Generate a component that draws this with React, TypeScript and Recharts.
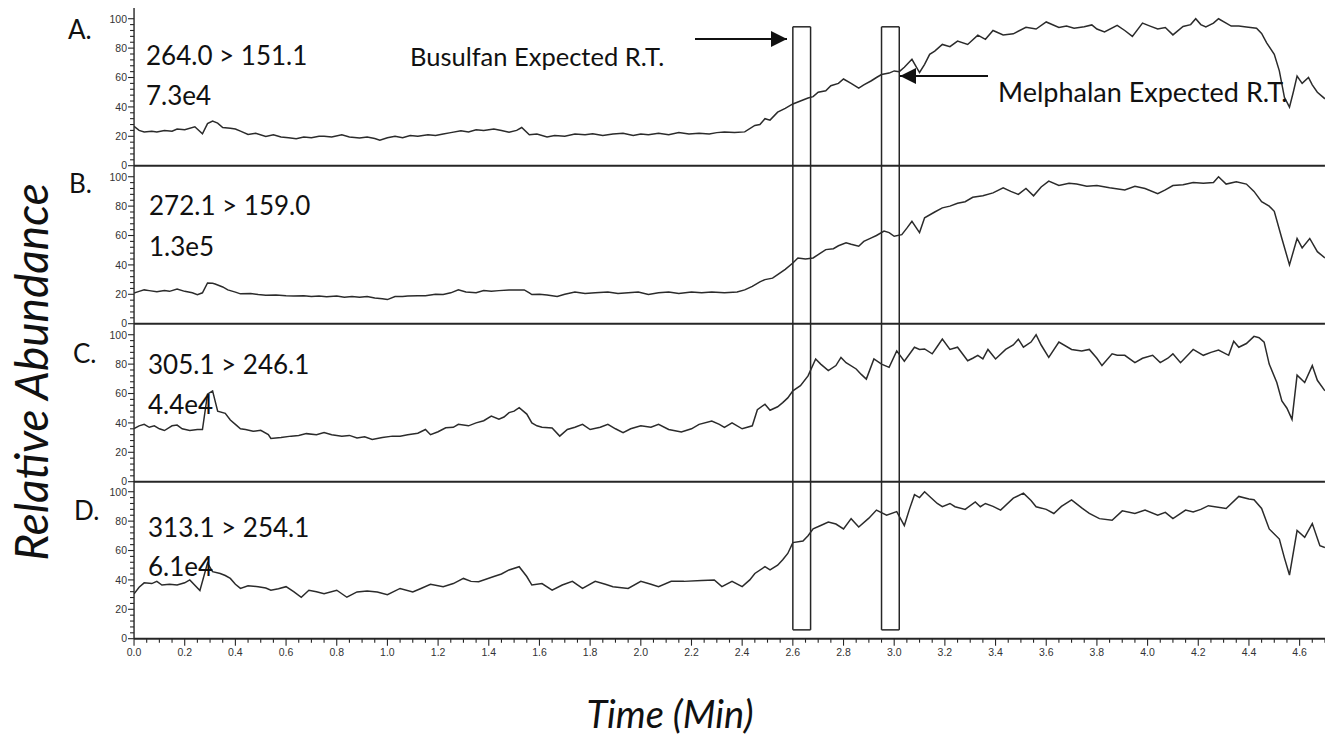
import React from 'react';
import { LineChart, Line, XAxis, YAxis, ReferenceLine } from 'recharts';

// [time (min), relative abundance (%)]
const traceA: [number, number][] = [
  [0, 26.8], [0.02, 24], [0.04, 23], [0.07, 23.5], [0.09, 23], [0.12, 24], [0.15, 23.5], [0.17, 25],
  [0.2, 24.5], [0.24, 26.5], [0.27, 21.7], [0.29, 28.6], [0.31, 30.3], [0.33, 29], [0.35, 26], [0.38, 25.5],
  [0.4, 25], [0.42, 23.5], [0.45, 21.2], [0.48, 22], [0.52, 19.9], [0.55, 21], [0.58, 19.5], [0.61, 19],
  [0.64, 18.4], [0.67, 19.5], [0.7, 19], [0.73, 20], [0.75, 20], [0.78, 19.5], [0.82, 21], [0.85, 19.5],
  [0.89, 18.8], [0.92, 19.5], [0.95, 18.5], [0.97, 17.3], [1.0, 19], [1.03, 20], [1.06, 19], [1.09, 20.5],
  [1.12, 20], [1.16, 21], [1.19, 20.5], [1.22, 21.5], [1.25, 22.5], [1.29, 23.8], [1.32, 23], [1.35, 24.5],
  [1.38, 24], [1.42, 25], [1.45, 24], [1.48, 22.7], [1.51, 24], [1.53, 26], [1.56, 21], [1.59, 21.5],
  [1.63, 19.6], [1.66, 20.5], [1.7, 20], [1.74, 21.5], [1.78, 21], [1.81, 21.8], [1.85, 20.5], [1.89, 21.5],
  [1.93, 22], [1.97, 20.5], [2.0, 21.5], [2.03, 21], [2.07, 22], [2.11, 21], [2.15, 22.5], [2.19, 21.5],
  [2.23, 22], [2.27, 21.5], [2.3, 22.5], [2.33, 23], [2.37, 22.5], [2.41, 23], [2.45, 27.4], [2.47, 28],
  [2.49, 32], [2.51, 31], [2.54, 36.4], [2.57, 39], [2.6, 42], [2.63, 44], [2.66, 46], [2.68, 47],
  [2.7, 50], [2.73, 51], [2.75, 54.4], [2.78, 56], [2.8, 59], [2.83, 56], [2.86, 52.8], [2.88, 55],
  [2.91, 57.8], [2.93, 60], [2.95, 62], [2.98, 63], [3.0, 64.5], [3.02, 64], [3.04, 67], [3.07, 72.4],
  [3.1, 63.4], [3.12, 69], [3.14, 75.8], [3.16, 78], [3.19, 82.5], [3.22, 81], [3.25, 84.8], [3.29, 82.5],
  [3.33, 88.8], [3.36, 86], [3.39, 92], [3.43, 89], [3.47, 89.7], [3.52, 94.2], [3.56, 93], [3.6, 97.8],
  [3.65, 94], [3.68, 95], [3.71, 93.6], [3.75, 94.5], [3.78, 95.8], [3.8, 93], [3.83, 91], [3.88, 95.5],
  [3.91, 92], [3.94, 88], [3.98, 97], [4.01, 95], [4.04, 93], [4.07, 94], [4.1, 89], [4.14, 94.7],
  [4.17, 96], [4.19, 100], [4.21, 96], [4.23, 94.4], [4.26, 97], [4.28, 100], [4.31, 97], [4.33, 95],
  [4.36, 95], [4.39, 94.4], [4.43, 93.5], [4.45, 90], [4.47, 83.6], [4.5, 75.8], [4.52, 64.5], [4.54, 46.5],
  [4.56, 39.8], [4.575, 50], [4.59, 61], [4.61, 56], [4.635, 60], [4.65, 55], [4.67, 50], [4.7, 45.5],
];

const traceB: [number, number][] = [
  [0, 20.9], [0.02, 22], [0.04, 23], [0.06, 22.5], [0.09, 21.8], [0.12, 22.5], [0.14, 22], [0.17, 23.6],
  [0.2, 22], [0.23, 21], [0.25, 19.8], [0.27, 21], [0.29, 27.7], [0.31, 27.5], [0.32, 27], [0.35, 25],
  [0.37, 23], [0.4, 21.5], [0.42, 20.3], [0.46, 20.5], [0.49, 19.8], [0.52, 19.4], [0.56, 19.5], [0.6, 19],
  [0.63, 18.8], [0.67, 19], [0.7, 18.5], [0.73, 18.8], [0.76, 18.3], [0.8, 18.8], [0.83, 18], [0.86, 18.5],
  [0.89, 18], [0.92, 18.5], [0.95, 17.5], [0.98, 17], [1.0, 16.4], [1.03, 18.5], [1.06, 18.5], [1.08, 18.8],
  [1.12, 19], [1.15, 19], [1.19, 20], [1.22, 19.8], [1.25, 21], [1.28, 23], [1.31, 21.5], [1.35, 21],
  [1.38, 22.5], [1.41, 22], [1.44, 22.5], [1.48, 23], [1.51, 23], [1.54, 23], [1.56, 21], [1.57, 19.8],
  [1.6, 20], [1.63, 19.5], [1.67, 18.5], [1.7, 20], [1.74, 21.5], [1.78, 20.5], [1.82, 21], [1.87, 21.5],
  [1.91, 20.5], [1.95, 21], [1.99, 21.5], [2.03, 19.8], [2.07, 21], [2.11, 21.5], [2.15, 20.5], [2.2, 21.5],
  [2.24, 21], [2.28, 21.5], [2.33, 21], [2.38, 21.5], [2.41, 23], [2.44, 25.4], [2.47, 28.5], [2.49, 30],
  [2.52, 31], [2.54, 33.4], [2.57, 37], [2.6, 41.3], [2.62, 44.7], [2.65, 44], [2.68, 44.7], [2.7, 47],
  [2.73, 50.4], [2.76, 51], [2.78, 53], [2.81, 55], [2.83, 54], [2.86, 52.7], [2.88, 56], [2.91, 58.4],
  [2.93, 60], [2.96, 63], [2.98, 62], [3.0, 59.5], [3.03, 60.6], [3.05, 65], [3.07, 69.7], [3.1, 62],
  [3.12, 72], [3.16, 76], [3.19, 78.8], [3.22, 80], [3.25, 82], [3.28, 83], [3.31, 86], [3.35, 87],
  [3.39, 89], [3.43, 92.4], [3.46, 90], [3.49, 88], [3.52, 92], [3.55, 87], [3.58, 93], [3.61, 97],
  [3.65, 94], [3.69, 95.5], [3.72, 95], [3.76, 93.5], [3.8, 94], [3.85, 92.5], [3.91, 91], [3.95, 93.5],
  [3.99, 92], [4.04, 88.5], [4.07, 91], [4.1, 94], [4.14, 94.5], [4.18, 96], [4.22, 95.5], [4.26, 96],
  [4.28, 100], [4.31, 95], [4.35, 96.5], [4.39, 95], [4.42, 90], [4.45, 83], [4.48, 80], [4.5, 76.5],
  [4.53, 58], [4.56, 40], [4.59, 58], [4.61, 51.6], [4.64, 58], [4.67, 49], [4.7, 44.7],
];

const traceC: [number, number][] = [
  [0, 36.2], [0.02, 38], [0.04, 39], [0.06, 37], [0.08, 38], [0.1, 36], [0.12, 34.8], [0.14, 37],
  [0.15, 38], [0.17, 38.5], [0.19, 36], [0.22, 34.8], [0.25, 35.5], [0.27, 35.5], [0.29, 59.5], [0.31, 61.8],
  [0.33, 48], [0.36, 46.5], [0.38, 42], [0.4, 39], [0.42, 36], [0.44, 35.5], [0.47, 34.3], [0.5, 35],
  [0.53, 32], [0.54, 29.4], [0.58, 30], [0.62, 31], [0.65, 31.5], [0.68, 32.7], [0.72, 32], [0.75, 33.4],
  [0.78, 32], [0.82, 31], [0.85, 31.5], [0.88, 29.8], [0.91, 30.5], [0.94, 28.7], [0.98, 30], [1.02, 31],
  [1.05, 31], [1.08, 32], [1.12, 33], [1.15, 35.5], [1.17, 32], [1.2, 34], [1.23, 36.7], [1.26, 37],
  [1.28, 39], [1.32, 38], [1.35, 40], [1.38, 41.5], [1.41, 44.7], [1.44, 42.5], [1.46, 44], [1.48, 47],
  [1.5, 48], [1.52, 50.4], [1.55, 46], [1.57, 40], [1.59, 38], [1.61, 37], [1.65, 36.5], [1.68, 31],
  [1.71, 35.5], [1.74, 37], [1.77, 39], [1.8, 35.5], [1.84, 37], [1.87, 39], [1.9, 36], [1.93, 33.4],
  [1.96, 36], [2.0, 38], [2.04, 37], [2.07, 39], [2.11, 35.5], [2.16, 33.8], [2.2, 36], [2.23, 39],
  [2.28, 41.3], [2.31, 39], [2.33, 37], [2.36, 40], [2.4, 36], [2.44, 38], [2.46, 49], [2.49, 52.7],
  [2.51, 48.6], [2.54, 51], [2.56, 53.8], [2.58, 57], [2.6, 61.8], [2.63, 65.3], [2.66, 72], [2.69, 83.5],
  [2.71, 80], [2.74, 75.6], [2.77, 79], [2.79, 84.6], [2.81, 81], [2.85, 76.7], [2.87, 73], [2.89, 69.8],
  [2.92, 83.5], [2.95, 80], [2.98, 77.8], [3.01, 89], [3.04, 82], [3.08, 91.5], [3.1, 90], [3.12, 90.3],
  [3.15, 87], [3.17, 92], [3.19, 97], [3.22, 90], [3.25, 91.5], [3.29, 82.3], [3.31, 84], [3.33, 86],
  [3.35, 83.5], [3.37, 90], [3.4, 83.5], [3.44, 90], [3.47, 93], [3.49, 97], [3.51, 91.5], [3.54, 95],
  [3.56, 100], [3.58, 93], [3.61, 84.6], [3.65, 95], [3.7, 90], [3.74, 89], [3.77, 90], [3.8, 84],
  [3.82, 79], [3.86, 87], [3.88, 86], [3.91, 86], [3.95, 81], [3.98, 84], [4.02, 86], [4.05, 81],
  [4.08, 84], [4.1, 87], [4.13, 81], [4.18, 90], [4.22, 86], [4.25, 88], [4.28, 89.6], [4.32, 86],
  [4.34, 95.6], [4.36, 91.5], [4.39, 94], [4.42, 98.9], [4.44, 98], [4.46, 95], [4.48, 80], [4.51, 67.5],
  [4.53, 55], [4.55, 50], [4.57, 42.4], [4.59, 72.5], [4.62, 67.5], [4.65, 79], [4.67, 69], [4.7, 61.8],
];

const traceD: [number, number][] = [
  [0, 30.5], [0.02, 35], [0.04, 38], [0.07, 37.5], [0.09, 39], [0.11, 36.5], [0.14, 37], [0.17, 36.5],
  [0.2, 38], [0.22, 40], [0.26, 32.8], [0.29, 51.4], [0.31, 45.6], [0.34, 44.4], [0.36, 43], [0.38, 41],
  [0.4, 37], [0.42, 34.2], [0.45, 36], [0.49, 35.4], [0.52, 34.5], [0.54, 33], [0.57, 34], [0.6, 35.4],
  [0.63, 32], [0.66, 28.2], [0.69, 33], [0.72, 32], [0.75, 30.6], [0.8, 33], [0.84, 28.2], [0.88, 31.8],
  [0.92, 32.5], [0.96, 31.8], [1.0, 30], [1.05, 34.2], [1.1, 31.8], [1.13, 34], [1.17, 37], [1.22, 35.4],
  [1.26, 37.5], [1.3, 41], [1.33, 39], [1.36, 38.8], [1.42, 42.3], [1.45, 44], [1.48, 46.8], [1.52, 49],
  [1.55, 42.3], [1.57, 36.5], [1.61, 37.5], [1.65, 33], [1.69, 36.5], [1.73, 39], [1.77, 34.2], [1.82, 39],
  [1.86, 37], [1.89, 35.4], [1.95, 34.2], [2.0, 39], [2.04, 37], [2.07, 35.4], [2.12, 39], [2.17, 39],
  [2.24, 39.6], [2.29, 40], [2.32, 35.4], [2.36, 39], [2.4, 35.4], [2.43, 40], [2.45, 44.4], [2.49, 49],
  [2.51, 46.8], [2.54, 50], [2.56, 53.7], [2.58, 58], [2.6, 65.4], [2.64, 66.5], [2.66, 70], [2.68, 74.7],
  [2.71, 77], [2.74, 79.4], [2.77, 78], [2.8, 74.7], [2.83, 81.7], [2.86, 76], [2.9, 82], [2.93, 87.5],
  [2.97, 84], [3.01, 86.5], [3.04, 77], [3.06, 88], [3.08, 98], [3.1, 96], [3.12, 100], [3.14, 96.8],
  [3.17, 92], [3.19, 89.8], [3.22, 92], [3.24, 89.8], [3.28, 88], [3.32, 93], [3.34, 89.8], [3.36, 92],
  [3.39, 90], [3.42, 87.5], [3.47, 95.6], [3.51, 99], [3.54, 94], [3.56, 89.8], [3.6, 88], [3.63, 85.2],
  [3.66, 90], [3.7, 94.5], [3.74, 89], [3.77, 85.2], [3.81, 81.7], [3.86, 80.6], [3.9, 87], [3.95, 85.2],
  [3.99, 87.5], [4.04, 84], [4.07, 86], [4.1, 81.7], [4.15, 87.5], [4.18, 86.3], [4.21, 88], [4.24, 90.5],
  [4.31, 88.6], [4.36, 96.8], [4.4, 95], [4.42, 94.5], [4.45, 88.6], [4.48, 74.7], [4.52, 67.8], [4.54, 55],
  [4.56, 43.3], [4.59, 73.6], [4.62, 69], [4.65, 78.3], [4.68, 63.3], [4.7, 62],
];

const TRACES = [traceA, traceB, traceC, traceD];
const PANEL_LETTERS = ['A.', 'B.', 'C.', 'D.'];
const TRANSITIONS = ['264.0 > 151.1', '272.1 > 159.0', '305.1 > 246.1', '313.1 > 254.1'];
const INTENSITIES = ['7.3e4', '1.3e5', '4.4e4', '6.1e4'];

// expected retention time windows (min)
const EXPECTED_RT = [
  { name: 'Busulfan Expected R.T.', from: 2.6, to: 2.67 },
  { name: 'Melphalan Expected R.T.', from: 2.95, to: 3.02 },
];
const BOX_TOP = 94.5; // in panel A units
const BOX_BOTTOM = 6; // in panel D units

const X_LABELS = [0, 0.2, 0.4, 0.6, 0.8, 1.0, 1.2, 1.4, 1.6, 1.8, 2.0, 2.2, 2.4, 2.6, 2.8, 3.0, 3.2, 3.4, 3.6, 3.8, 4.0, 4.2, 4.4, 4.6];
const Y_LABELS = [0, 20, 40, 60, 80, 100];
const Y_TICKS = [0, 4, 8, 12, 16, 20, 24, 28, 32, 36, 40, 44, 48, 52, 56, 60, 64, 68, 72, 76, 80, 84, 88, 92, 96, 100];
const X_TICKS = X_LABELS.flatMap((m) => [m, m + 0.05, m + 0.1, m + 0.15]).filter((t) => t <= 4.7);

// layout
const W = 1325;
const AXIS_W = 134;
const PANEL_H = 157.7;
const FIRST_TOP = 8.3;
const Y_MAX = 107.3;
const X_MAX = 4.7;
const X_AXIS_H = 34;
const SPILL = 8; // room below each panel so the "0" label and separator are not clipped
const INK = '#262626';
const TEXT_FONT = 'Lato, "Open Sans", sans-serif';
const TICK_FONT = '"Liberation Sans Narrow", "Liberation Sans", Arial, sans-serif';

const LABEL_POS = [
  { lx: 68, ly: 39, tx: 146, ty: 65, iy: 105 },
  { lx: 69, ly: 193, tx: 149, ty: 215, iy: 256 },
  { lx: 73, ly: 363, tx: 148, ty: 374, iy: 414 },
  { lx: 74, ly: 520, tx: 148, ty: 537, iy: 576 },
];

const YTick = (props: any) => {
  const { x, y, payload } = props;
  const major = Y_LABELS.includes(payload.value);
  return (
    <g>
      <line x1={x - (major ? 6 : 4)} x2={x} y1={y} y2={y} stroke={INK} strokeWidth={1.1} />
      {major && (
        <text x={x - 7} y={y} dy={3.8} textAnchor="end" fontSize={10.5} fill="#333" fontFamily={TICK_FONT}>
          {payload.value}
        </text>
      )}
    </g>
  );
};

const XTick = (props: any) => {
  const { x, y, payload } = props;
  const major = X_LABELS.some((m) => Math.abs(m - payload.value) < 1e-6);
  return (
    <g>
      <line x1={x} x2={x} y1={y} y2={y + (major ? 7 : 4)} stroke={INK} strokeWidth={1.1} />
      {major && (
        <text x={x} y={y + 17} textAnchor="middle" fontSize={10.5} fill="#333" fontFamily={TICK_FONT}>
          {payload.value.toFixed(1)}
        </text>
      )}
    </g>
  );
};

const Panel = ({ index }: { index: number }) => {
  const isFirst = index === 0;
  const isLast = index === TRACES.length - 1;
  const data = TRACES[index].map(([t, v]) => ({ t, v }));
  const top = isFirst ? BOX_TOP : Y_MAX;
  const bottom = isLast ? BOX_BOTTOM : 0;
  return (
    <LineChart
      width={W}
      height={PANEL_H + (isLast ? X_AXIS_H : SPILL)}
      data={data}
      margin={{ top: 0, right: 0, bottom: isLast ? 0 : SPILL, left: 0 }}
    >
      <XAxis
        dataKey="t"
        type="number"
        domain={[0, X_MAX]}
        allowDataOverflow
        hide={!isLast}
        height={X_AXIS_H}
        ticks={X_TICKS}
        interval={0}
        tickLine={false}
        tickSize={0}
        tickMargin={0}
        axisLine={{ stroke: INK, strokeWidth: 2 }}
        tick={(p: any) => <XTick {...p} />}
      />
      <YAxis
        type="number"
        domain={[0, Y_MAX]}
        ticks={Y_TICKS}
        interval={0}
        width={AXIS_W}
        tickLine={false}
        tickSize={0}
        tickMargin={0}
        axisLine={{ stroke: INK, strokeWidth: 1.4 }}
        tick={(p: any) => <YTick {...p} />}
      />
      {!isLast && <ReferenceLine y={0} stroke={INK} strokeWidth={2} />}
      {EXPECTED_RT.flatMap((rt) => [
        <ReferenceLine
          key={`${rt.name}-l`}
          segment={[{ x: rt.from, y: bottom }, { x: rt.from, y: top }]}
          stroke={INK}
          strokeWidth={1.5}
        />,
        <ReferenceLine
          key={`${rt.name}-r`}
          segment={[{ x: rt.to, y: bottom }, { x: rt.to, y: top }]}
          stroke={INK}
          strokeWidth={1.5}
        />,
        isFirst ? (
          <ReferenceLine
            key={`${rt.name}-t`}
            segment={[{ x: rt.from, y: top }, { x: rt.to, y: top }]}
            stroke={INK}
            strokeWidth={1.5}
          />
        ) : null,
        isLast ? (
          <ReferenceLine
            key={`${rt.name}-b`}
            segment={[{ x: rt.from, y: bottom }, { x: rt.to, y: bottom }]}
            stroke={INK}
            strokeWidth={1.5}
          />
        ) : null,
      ])}
      <Line
        type="linear"
        dataKey="v"
        stroke="#2b2b2b"
        strokeWidth={1.5}
        dot={false}
        isAnimationActive={false}
      />
    </LineChart>
  );
};

export default function App() {
  return (
    <div style={{ position: 'absolute', left: 0, top: 0, width: W, height: 737, background: '#fff', overflow: 'hidden' }}>
      {TRACES.map((_, i) => (
        <div key={i} style={{ position: 'absolute', left: 0, top: FIRST_TOP + PANEL_H * i }}>
          <Panel index={i} />
        </div>
      ))}
      <svg width={W} height={737} style={{ position: 'absolute', left: 0, top: 0, pointerEvents: 'none' }}>
        <defs>
          <marker id="head" viewBox="0 0 10 10" refX="10" refY="5" markerWidth="17" markerHeight="16" markerUnits="userSpaceOnUse" orient="auto">
            <path d="M0,0 L10,5 L0,10 z" fill="#111" />
          </marker>
        </defs>
        {PANEL_LETTERS.map((letter, i) => (
          <g key={letter} fontFamily={TEXT_FONT} fill="#111">
            <text x={LABEL_POS[i].lx} y={LABEL_POS[i].ly} fontSize={26}>{letter}</text>
            <text x={LABEL_POS[i].tx} y={LABEL_POS[i].ty} fontSize={26}>{TRANSITIONS[i]}</text>
            <text x={LABEL_POS[i].tx} y={LABEL_POS[i].iy} fontSize={26}>{INTENSITIES[i]}</text>
          </g>
        ))}
        <text x={410} y={66} fontSize={25.5} fontFamily={TEXT_FONT} fill="#111">{EXPECTED_RT[0].name}</text>
        <line x1={695} y1={39} x2={787} y2={39} stroke="#111" strokeWidth={2} markerEnd="url(#head)" />
        <text x={998} y={102} fontSize={27} fontFamily={TEXT_FONT} fill="#111">{EXPECTED_RT[1].name}</text>
        <line x1={988} y1={76} x2={900} y2={76} stroke="#111" strokeWidth={2} markerEnd="url(#head)" />
        <text
          transform="translate(48, 372) rotate(-90)"
          textAnchor="middle"
          fontSize={46}
          fontStyle="italic"
          fontFamily={TEXT_FONT}
          fill="#111"
        >
          Relative Abundance
        </text>
        <text x={670} y={728} textAnchor="middle" fontSize={38} fontStyle="italic" fontFamily={TEXT_FONT} fill="#111">
          Time (Min)
        </text>
      </svg>
    </div>
  );
}
